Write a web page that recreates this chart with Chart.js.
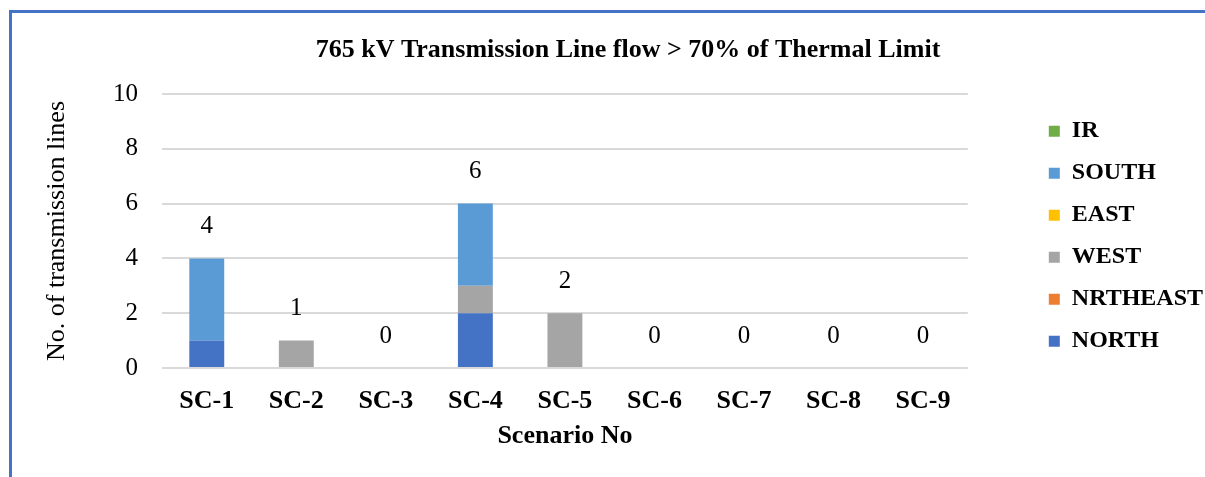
<!DOCTYPE html>
<html>
<head>
<meta charset="utf-8">
<script src="https://cdn.jsdelivr.net/npm/chart.js@4"></script>
<style>
  body { margin: 0; background: #fff; overflow: hidden; }
  #frame { position: absolute; left: 9px; top: 10px; width: 1300px; height: 500px;
           border-left: 3px solid #4472C4; border-top: 3px solid #4472C4; }
  #wrap { position: absolute; left: 0; top: 0; width: 1230px; height: 477px; }
</style>
</head>
<body>
<div id="frame"></div>
<div id="wrap"><canvas id="myChart"></canvas></div>
<script>
var labels = ["SC-1", "SC-2", "SC-3", "SC-4", "SC-5", "SC-6", "SC-7", "SC-8", "SC-9"];
var north    = [1, 0, 0, 2, 0, 0, 0, 0, 0];
var nrtheast = [0, 0, 0, 0, 0, 0, 0, 0, 0];
var west     = [0, 1, 0, 1, 2, 0, 0, 0, 0];
var east     = [0, 0, 0, 0, 0, 0, 0, 0, 0];
var south    = [3, 0, 0, 3, 0, 0, 0, 0, 0];
var ir       = [0, 0, 0, 0, 0, 0, 0, 0, 0];
var yTicks   = [0, 2, 4, 6, 8, 10];

var serif = "'Liberation Serif', 'Times New Roman', serif";

// totals above each stack + chart title
var extras = {
  id: 'extras',
  afterDatasetsDraw: function(chart) {
    var ctx = chart.ctx;
    var x = chart.scales.x, y = chart.scales.y;
    ctx.save();
    ctx.fillStyle = '#000';
    ctx.textAlign = 'center';
    ctx.textBaseline = 'middle';
    ctx.font = '25px ' + serif;
    for (var i = 0; i < labels.length; i++) {
      var tot = north[i] + nrtheast[i] + west[i] + east[i] + south[i] + ir[i];
      ctx.fillText(String(tot), x.getPixelForValue(i), y.getPixelForValue(tot) - 32);
    }
    ctx.font = 'bold 26px ' + serif;
    ctx.fillText('765 kV Transmission Line flow > 70% of Thermal Limit', 628, 50);
    ctx.restore();
  }
};

var ctx = document.getElementById("myChart").getContext('2d');
var myChart = new Chart(ctx, {
  type: 'bar',
  data: {
    labels: labels,
    datasets: [
      { label: 'NORTH', data: north, backgroundColor: "#4472C4" },
      { label: 'NRTHEAST', data: nrtheast, backgroundColor: "#ED7D31" },
      { label: 'WEST', data: west, backgroundColor: "#A5A5A5" },
      { label: 'EAST', data: east, backgroundColor: "#FFC000" },
      { label: 'SOUTH', data: south, backgroundColor: "#5B9BD5" },
      { label: 'IR', data: ir, backgroundColor: "#70AD47" }
    ]
  },
  plugins: [extras],
  options: {
    responsive: true,
    maintainAspectRatio: false,
    animation: false,
    layout: { padding: { left: 42, top: 94, right: 17, bottom: 0 } },
    datasets: { bar: { categoryPercentage: 1, barPercentage: 0.39 } },
    plugins: {
      tooltip: { enabled: false },
      legend: {
        position: 'right',
        align: 'start',
        reverse: true,
        title: { display: true, text: ' ', padding: 3, font: { size: 1 } },
        labels: {
          boxWidth: 11, boxHeight: 11, padding: 18, color: '#000',
          font: { family: serif, size: 24, weight: 'bold' }
        }
      }
    },
    scales: {
      x: {
        stacked: true,
        grid: { display: false },
        border: { display: false },
        ticks: { color: '#000', padding: 10, font: { family: serif, size: 26, weight: 'bold' } },
        title: { display: true, text: 'Scenario No', color: '#000', padding: { top: 0, bottom: 25 },
                 font: { family: serif, size: 26, weight: 'bold' } },
        afterFit: function(s) { s.height = 109; }
      },
      y: {
        stacked: true,
        min: 0, max: 10,
        afterBuildTicks: function(s) { s.ticks = yTicks.map(function(v) { return { value: v }; }); },
        grid: { color: '#D9D9D9', lineWidth: 2, drawTicks: false },
        border: { display: false },
        ticks: { color: '#000', padding: 24, font: { family: serif, size: 25 } },
        title: { display: true, text: 'No. of transmission lines', color: '#000', padding: 0,
                 font: { family: serif, size: 26 } },
        afterFit: function(s) { s.width = 120; }
      },
      // empty spacer axis between plot and legend
      gap: {
        position: 'right',
        display: true,
        grid: { display: false },
        border: { display: false },
        ticks: { display: false },
        afterFit: function(s) { s.width = 63; }
      }
    }
  }
});
</script>
</body>
</html>
